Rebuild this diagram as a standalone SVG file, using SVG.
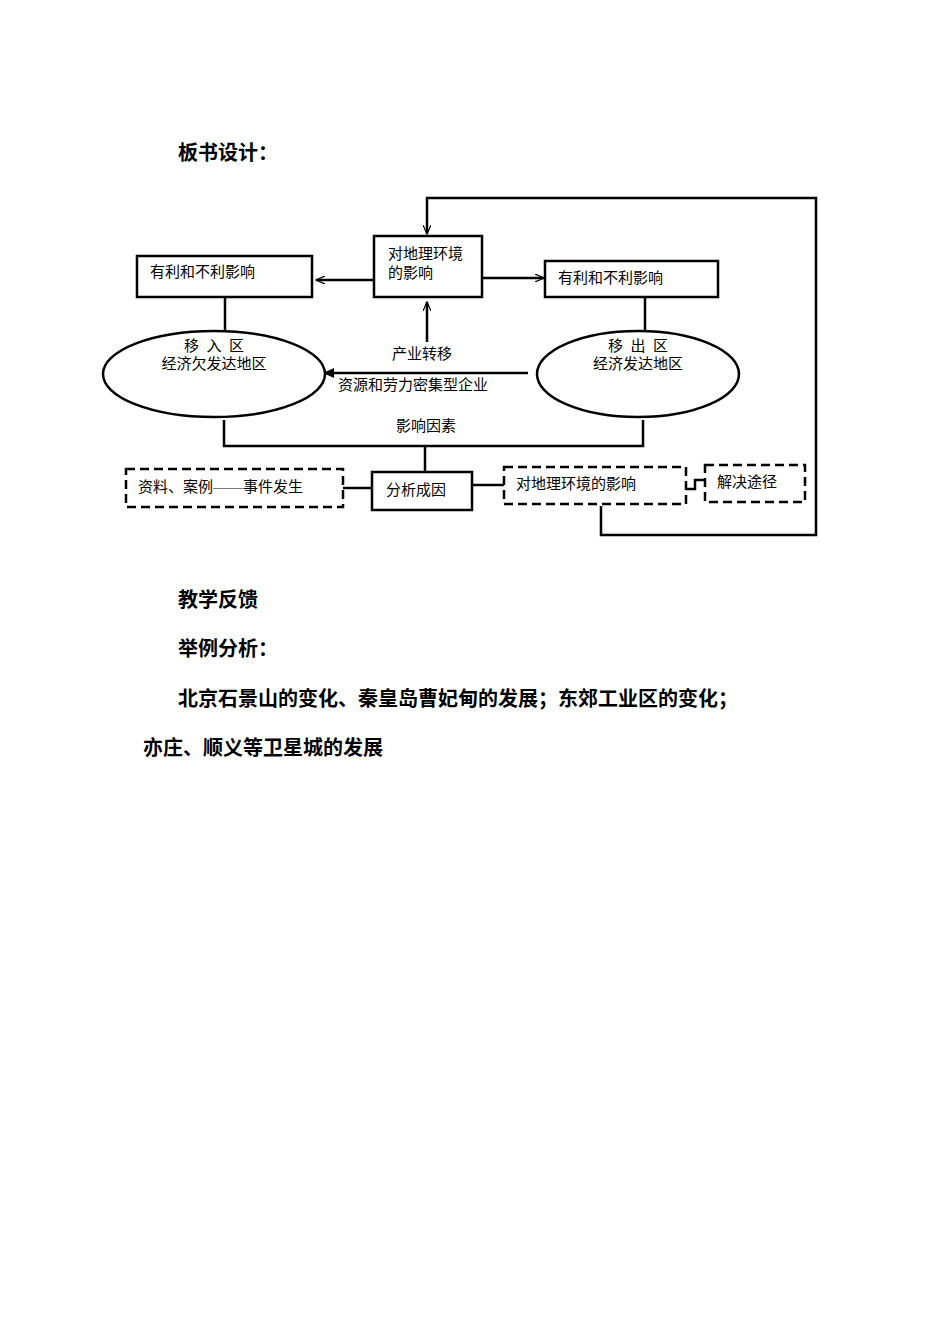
<svg xmlns="http://www.w3.org/2000/svg" width="950" height="1344" viewBox="0 0 950 1344">
<style>
text{font-family:"Liberation Serif","Noto Sans CJK SC",serif;fill:#000}
.t{font-size:15px}
.h{font-size:20px;font-weight:bold}
.b{fill:#fff;stroke:#000;stroke-width:2.5}
.d{fill:#fff;stroke:#000;stroke-width:2.5;stroke-dasharray:9 5}
.c{fill:none;stroke:#000;stroke-width:2.5}
</style>
<defs>
<marker id="o" markerWidth="10" markerHeight="8" refX="9" refY="4" orient="auto" markerUnits="userSpaceOnUse"><path d="M0,0 L9,4 L0,8" fill="none" stroke="#000" stroke-width="1.2"/></marker>
<marker id="f" markerWidth="12" markerHeight="10" refX="11" refY="5" orient="auto" markerUnits="userSpaceOnUse"><path d="M0,0 L11,5 L0,10 z" fill="#000"/></marker>
</defs>
<rect width="950" height="1344" fill="#fff"/>
<text class="h" x="178" y="160">板书设计：</text>
<g id="connectors">
<path class="c" d="M601,506 V535 H816 V198 H427 V234" marker-end="url(#o)"/>
<path class="c" d="M374,280 H316" marker-end="url(#o)"/>
<path class="c" d="M482,278 H544" marker-end="url(#o)"/>
<path class="c" d="M427,342 V302" marker-end="url(#o)"/>
<path class="c" d="M225,297 V331"/>
<path class="c" d="M645,297 V330"/>
<path class="c" d="M528,373 H323" marker-end="url(#f)"/>
<path class="c" d="M224,420 V446 H643 V420"/>
<path class="c" d="M425,446 V472"/>
<path class="c" d="M343,488 H372"/>
<path class="c" d="M472,485 H504"/>
<path class="c" d="M686,489 H695 V480 H705"/>
</g>
<g id="n1"><rect class="b" x="137" y="256" width="175" height="41"/><text class="t" x="150" y="277">有利和不利影响</text></g>
<g id="n2"><rect class="b" x="374" y="236" width="108" height="61"/><text class="t" x="388" y="259">对地理环境</text><text class="t" x="388" y="278">的影响</text></g>
<g id="n3"><rect class="b" x="545" y="261" width="173" height="36"/><text class="t" x="558" y="283">有利和不利影响</text></g>
<g id="n4"><ellipse class="b" cx="214" cy="374" rx="111" ry="43"/><text class="t" x="214" y="351" text-anchor="middle" xml:space="preserve">移  入  区</text><text class="t" x="214" y="369" text-anchor="middle">经济欠发达地区</text></g>
<g id="n5"><ellipse class="b" cx="638" cy="374" rx="101" ry="43"/><text class="t" x="638" y="351" text-anchor="middle" xml:space="preserve">移  出  区</text><text class="t" x="638" y="369" text-anchor="middle">经济发达地区</text></g>
<text class="t" x="392" y="359">产业转移</text>
<text class="t" x="338" y="390">资源和劳力密集型企业</text>
<text class="t" x="396" y="431">影响因素</text>
<g id="n6"><rect class="d" x="126" y="469" width="217" height="38"/><text class="t" x="138" y="492">资料、案例——事件发生</text></g>
<g id="n7"><rect class="b" x="372" y="472" width="100" height="38"/><text class="t" x="386" y="495">分析成因</text></g>
<g id="n8"><rect class="d" x="504" y="467" width="182" height="37"/><text class="t" x="516" y="489">对地理环境的影响</text></g>
<g id="n9"><rect class="d" x="705" y="465" width="100" height="37"/><text class="t" x="717" y="487">解决途径</text></g>
<text class="h" x="178" y="607">教学反馈</text>
<text class="h" x="178" y="656">举例分析：</text>
<text class="h" x="178" y="706">北京石景山的变化、秦皇岛曹妃甸的发展；东郊工业区的变化；</text>
<text class="h" x="143" y="755">亦庄、顺义等卫星城的发展</text>
</svg>
